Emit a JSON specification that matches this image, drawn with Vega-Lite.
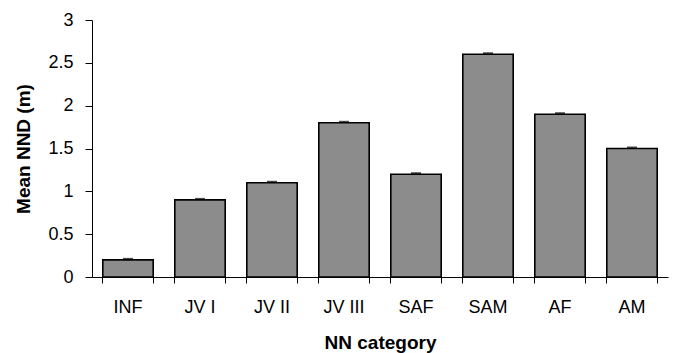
{
  "$schema": "https://vega.github.io/schema/vega-lite/v6.json",
  "width": 576,
  "height": 257,
  "autosize": "none",
  "padding": {"left": 92, "top": 20, "right": 9, "bottom": 76},
  "background": "white",
  "config": {
    "view": {"stroke": null},
    "font": "Liberation Sans",
    "axis": {
      "grid": false,
      "domainColor": "black",
      "tickColor": "black",
      "labelColor": "black",
      "titleColor": "black",
      "labelFont": "Liberation Sans",
      "titleFont": "Liberation Sans",
      "labelFontSize": 18,
      "titleFontSize": 19,
      "titleFontWeight": "bold",
      "domainWidth": 1,
      "tickWidth": 1
    }
  },
  "data": {
    "values": [
      {"category": "INF", "mean": 0.2},
      {"category": "JV I", "mean": 0.9},
      {"category": "JV II", "mean": 1.1},
      {"category": "JV III", "mean": 1.8},
      {"category": "SAF", "mean": 1.2},
      {"category": "SAM", "mean": 2.6},
      {"category": "AF", "mean": 1.9},
      {"category": "AM", "mean": 1.5}
    ]
  },
  "layer": [
    {
      "mark": {"type": "bar", "fill": "#8c8c8c", "stroke": "black", "strokeWidth": 1.6},
      "encoding": {
        "x": {
          "field": "category", "type": "nominal", "sort": null,
          "scale": {"paddingInner": 0.3, "paddingOuter": 0.15},
          "axis": {"title": "NN category", "ticks": false, "tickSize": 0, "labelPadding": 21, "labelAngle": 0, "titlePadding": 17, "orient": "bottom", "domain": true}
        },
        "y": {
          "field": "mean", "type": "quantitative",
          "scale": {"domain": [0, 3], "nice": false},
          "axis": {"title": "Mean NND (m)", "values": [0, 0.5, 1, 1.5, 2, 2.5, 3], "format": "~g", "tickSize": 7, "labelPadding": 12, "titlePadding": 14}
        }
      }
    },
    {
      "mark": {"type": "tick", "color": "black", "thickness": 2, "size": 10, "yOffset": -1},
      "encoding": {
        "x": {
          "field": "category", "type": "nominal", "sort": null,
          "axis": {"title": null, "labels": false, "ticks": true, "tickSize": 6, "bandPosition": 0, "domain": false, "orient": "bottom"}
        },
        "y": {"field": "mean", "type": "quantitative", "axis": null}
      }
    },
    {
      "mark": {"type": "tick", "opacity": 0},
      "encoding": {
        "x": {
          "field": "category", "type": "nominal", "sort": null,
          "axis": {"title": null, "labels": false, "ticks": true, "tickSize": 6, "bandPosition": 1, "domain": false, "orient": "bottom"}
        },
        "y": {"field": "mean", "type": "quantitative", "axis": null}
      }
    }
  ],
  "resolve": {"axis": {"x": "independent", "y": "independent"}}
}
